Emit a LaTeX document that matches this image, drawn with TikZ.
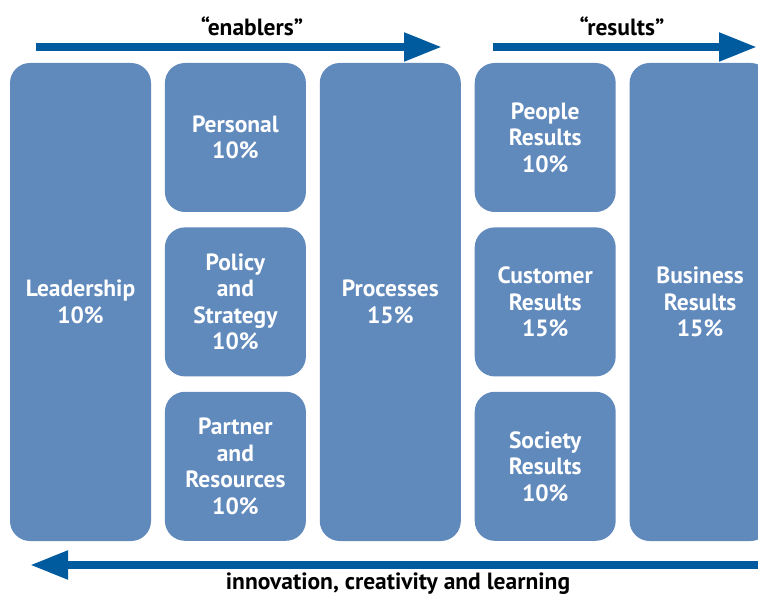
\documentclass[tikz,border=0pt]{standalone}
\usepackage{fontspec}
\setmainfont{PT Sans}
\usetikzlibrary{positioning,arrows.meta}
\definecolor{critblue}{RGB}{96,137,188}
\definecolor{flowblue}{RGB}{0,90,158}
\tikzset{
  crit/.style={fill=critblue,rounded corners=20pt,text=white,align=center,
    font=\fontsize{23.5}{26.5}\selectfont\bfseries,minimum width=141pt,inner sep=0pt},
  tallcrit/.style={crit,minimum height=478pt},
  smallcrit/.style={crit,minimum height=149pt},
  flow/.style={draw=flowblue,line width=8pt,-{Triangle[length=38pt,width=27pt]}},
  caption/.style={font=\fontsize{23.5}{26}\selectfont\bfseries,anchor=base}
}

\begin{document}
\begin{tikzpicture}[x=1pt,y=1pt]
  \useasboundingbox (0,0) rectangle (758,-596);
  \node[tallcrit] (lead) at (80.5,-302) {Leadership\\10\%};
  \node[smallcrit,right=13.5pt of lead.north east,anchor=north west] (pers) {Personal\\10\%};
  \node[smallcrit,below=15pt of pers] (pol) {Policy\\and\\Strategy\\10\%};
  \node[smallcrit,below=15pt of pol] (part) {Partner\\and\\Resources\\10\%};
  \node[tallcrit,right=13.5pt of pers.north east,anchor=north west] (proc) {Processes\\15\%};
  \node[smallcrit,right=13.5pt of proc.north east,anchor=north west] (peop) {People\\Results\\10\%};
  \node[smallcrit,below=15pt of peop] (cust) {Customer\\Results\\15\%};
  \node[smallcrit,below=15pt of cust] (soc) {Society\\Results\\10\%};
  \node[tallcrit,right=13.5pt of peop.north east,anchor=north west] (bus) {Business\\Results\\15\%};
  \coordinate (enA) at (36,-47);
  \coordinate (enB) at (442,-47);
  \coordinate (reA) at (493,-47);
  \coordinate (reB) at (757,-47);
  \coordinate (inA) at (758,-565);
  \coordinate (inB) at (30,-565);
  \draw[flow] (enA) -- (enB);
  \draw[flow] (reA) -- (reB);
  \draw[flow] (inA) -- (inB);
  \node[caption] (enab) at (252,-36) {“enablers”};
  \node[caption] (res) at (622,-36) {“results”};
  \node[caption] (inno) at (398,-589) {innovation, creativity and learning};
\end{tikzpicture}
\end{document}
